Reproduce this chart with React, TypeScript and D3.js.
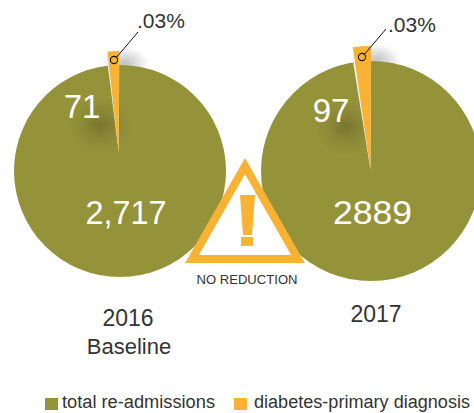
import React from "react";
import * as d3 from "d3";

const years = ["2016", "2017"];
const subtitles = ["Baseline", ""];
const totalAdmissions = [2717, 2889];
const diabetesPrimary = [71, 97];
const totalLabels = ["2,717", "2889"];
const diabetesLabels = ["71", "97"];
const shareLabels = [".03%", ".03%"];
const legendNames = ["total re-admissions", "diabetes-primary diagnosis"];

const OLIVE = "#959339";
const ORANGE = "#F9B233";
const INK = "#333333";
const FONT = "'Liberation Sans', Arial, sans-serif";
const SQUASH = 0.7; // the drawn wedges are narrower than the true proportion

const layouts = [
  { cx: 120, cy: 171, r: 106, ax: 118.8, ay: 152.5, wr: 101.5, dot: [114, 60], end: [138, 32], sx: 137, sy: 28, yearX: 128, yearY: 326, numX: 126, numY: 224, numLen: 81, smallX: 82, smallY: 118, shX: 100, shY: 125, topX: 125, topY: 63 },
  { cx: 371, cy: 171, r: 110, ax: 370.5, ay: 170, wr: 124, dot: [362, 57], end: [386, 29], sx: 388, sy: 32, yearX: 376, yearY: 322, numX: 372.5, numY: 224, numLen: 79, smallX: 331, smallY: 122, shX: 346, shY: 127, topX: 377, topY: 60 },
];

const pieGen = d3.pie<number>().sort(null).value((d) => d);
const wedge = d3.arc<any>().innerRadius(0);

function wedgeAngles(i: number) {
  const slices = pieGen([totalAdmissions[i], diabetesPrimary[i]]);
  const span = (slices[1].endAngle - slices[1].startAngle) * SQUASH;
  return { startAngle: -span, endAngle: 0.004 };
}

export default function App() {
  const triangle = d3.line()([[245, 166], [192, 259], [298, 259]]) + "Z";
  return (
    <svg width={474} height={413} viewBox="0 0 474 413" style={{ position: "absolute", left: 0, top: 0, background: "#fff", fontFamily: FONT }}>
      <defs>
        <radialGradient id="dark">
          <stop offset="0%" stopColor="#6f6c2e" stopOpacity={0.75} />
          <stop offset="55%" stopColor="#6f6c2e" stopOpacity={0.25} />
          <stop offset="100%" stopColor="#6f6c2e" stopOpacity={0} />
        </radialGradient>
        <radialGradient id="halo">
          <stop offset="0%" stopColor="#777" stopOpacity={0.45} />
          <stop offset="100%" stopColor="#777" stopOpacity={0} />
        </radialGradient>
        {layouts.map((l, i) => (
          <clipPath id={`pie${i}`} key={i}>
            <circle cx={l.cx} cy={l.cy} r={l.r} />
          </clipPath>
        ))}
      </defs>

      {layouts.map((l, i) => {
        const a = wedgeAngles(i);
        return (
          <g key={years[i]}>
            <ellipse cx={l.topX} cy={l.topY} rx={24} ry={16} fill="url(#halo)" />
            <circle cx={l.cx} cy={l.cy} r={l.r} fill={OLIVE} />
            <ellipse cx={l.shX} cy={l.shY} rx={31} ry={28} fill="url(#dark)" clipPath={`url(#pie${i})`} />
            <g clipPath={`url(#pie${i})`}>
              <path
                d={wedge({ ...a, startAngle: a.startAngle * 1.12, outerRadius: l.wr + 20 })!}
                transform={`translate(${l.ax},${l.ay})`}
                fill="#f1f1f1"
              />
            </g>
            <path d={wedge({ ...a, outerRadius: l.wr })!} transform={`translate(${l.ax},${l.ay})`} fill={ORANGE} />
            <circle cx={l.dot[0]} cy={l.dot[1]} r={3.6} fill="none" stroke="#111" strokeWidth={1.1} />
            <line x1={l.dot[0] + 2.5} y1={l.dot[1] - 2.7} x2={l.end[0]} y2={l.end[1]} stroke="#111" strokeWidth={1} />
            <text x={l.sx} y={l.sy} fontSize={21} fill={INK}>{shareLabels[i]}</text>
            <text x={l.smallX} y={l.smallY} textAnchor="middle" fontSize={33} fill="#fff">{diabetesLabels[i]}</text>
            <text x={l.numX} y={l.numY} textAnchor="middle" fontSize={34} fill="#fff" textLength={l.numLen} lengthAdjust="spacingAndGlyphs">{totalLabels[i]}</text>
            <text x={l.yearX} y={l.yearY} textAnchor="middle" fontSize={23} fill={INK}>{years[i]}</text>
            {subtitles[i] && <text x={l.yearX + 1} y={l.yearY + 28} textAnchor="middle" fontSize={22} fill={INK}>{subtitles[i]}</text>}
          </g>
        );
      })}

      <path d={triangle} fill="#fff" stroke={ORANGE} strokeWidth={8} strokeLinejoin="miter" />
      <path d="M240 195H255L252 235H243Z" fill={ORANGE} />
      <rect x={241} y={237} width={12} height={9} fill={ORANGE} />
      <text x={247} y={284} textAnchor="middle" fontSize={13} fill={INK} textLength={101} lengthAdjust="spacingAndGlyphs">NO REDUCTION</text>

      <rect x={45} y={398} width={13} height={12} fill={OLIVE} />
      <text x={62} y={408} fontSize={18} fill={INK} textLength={153} lengthAdjust="spacingAndGlyphs">{legendNames[0]}</text>
      <rect x={234} y={398} width={13} height={12} fill={ORANGE} />
      <text x={254} y={408} fontSize={18} fill={INK} textLength={216} lengthAdjust="spacingAndGlyphs">{legendNames[1]}</text>
    </svg>
  );
}
